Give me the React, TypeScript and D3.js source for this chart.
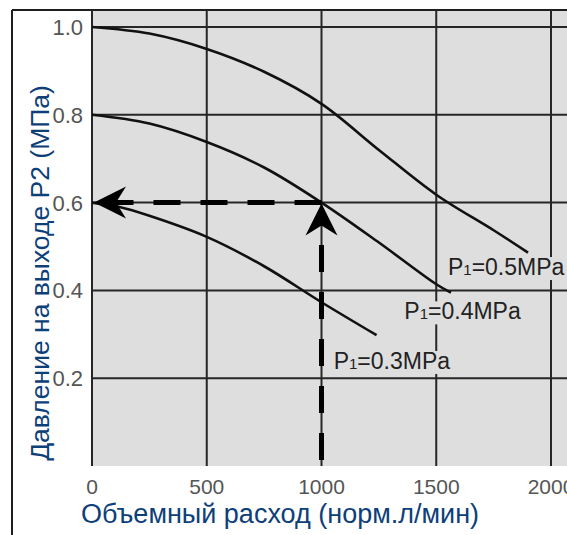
import React, { useEffect, useRef } from 'react';
import * as d3 from 'd3';

// расход, норм.л/мин
const flow05 = [0, 250, 500, 750, 1000, 1250, 1500, 1750, 1900];
const p05 = [1.0, 0.985, 0.95, 0.898, 0.825, 0.72, 0.618, 0.537, 0.486];
const flow04 = [0, 250, 500, 750, 1000, 1250, 1500, 1564];
const p04 = [0.8, 0.78, 0.738, 0.68, 0.6, 0.509, 0.414, 0.395];
const flow03 = [0, 120, 250, 500, 750, 1000, 1240];
const p03 = [0.6, 0.59, 0.57, 0.522, 0.455, 0.373, 0.298];

const xTicks = [0, 500, 1000, 1500, 2000];
const yTicks = [0.2, 0.4, 0.6, 0.8, 1.0];
const seriesNames = ['0.5', '0.4', '0.3'];
// where each label sits, in data units (flow, pressure)
const labelFlow = [1551, 1361, 1053];
const labelP = [0.435, 0.334, 0.221];

const readFlow = 1000;
const readP = 0.6;

export default function App() {
  const svgRef = useRef<SVGSVGElement>(null);

  useEffect(() => {
    const W = 567;
    const H = 535;
    const svg = d3.select(svgRef.current);
    svg.selectAll('*').remove();

    const x = d3.scaleLinear().domain([0, 2000]).range([92, 551]);
    const y = d3.scaleLinear().domain([0, 1]).range([466, 27]);
    const plotTop = 10;
    const font = "'Liberation Sans', Arial, sans-serif";
    const blue = '#0d4079';

    svg.append('rect').attr('width', W).attr('height', H).attr('fill', '#fff');

    // grey plot area
    svg.append('rect')
      .attr('x', x(0)).attr('y', plotTop)
      .attr('width', W - x(0)).attr('height', y(0) - plotTop)
      .attr('fill', '#dedede');

    // frame
    svg.append('line').attr('x1', 12).attr('x2', W).attr('y1', plotTop).attr('y2', plotTop)
      .attr('stroke', '#1e1e1e').attr('stroke-width', 2);
    svg.append('line').attr('x1', 12).attr('x2', 12).attr('y1', plotTop).attr('y2', H)
      .attr('stroke', '#1e1e1e').attr('stroke-width', 2);

    // grid
    const grid = svg.append('g').attr('stroke', '#262626').attr('stroke-width', 2);
    grid.selectAll('.vx').data(xTicks).join('line')
      .attr('x1', d => x(d)).attr('x2', d => x(d))
      .attr('y1', plotTop).attr('y2', y(0));
    grid.selectAll('.hy').data(yTicks).join('line')
      .attr('x1', x(0)).attr('x2', W)
      .attr('y1', d => y(d)).attr('y2', d => y(d));

    // tick labels
    svg.append('g').selectAll('text').data(xTicks).join('text')
      .attr('x', d => x(d)).attr('y', 494)
      .attr('text-anchor', 'middle')
      .attr('font-family', font).attr('font-size', 21).attr('fill', '#555')
      .text(d => d);
    svg.append('g').selectAll('text').data(yTicks).join('text')
      .attr('x', 83).attr('y', d => y(d) + 8)
      .attr('text-anchor', 'end')
      .attr('font-family', font).attr('font-size', 22).attr('fill', '#555')
      .text(d => d.toFixed(1));

    // curves
    const line = d3.line<[number, number]>()
      .x(d => x(d[0])).y(d => y(d[1]))
      .curve(d3.curveCatmullRom.alpha(0.5));
    const series: [number, number][][] = [
      flow05.map((f, i) => [f, p05[i]]),
      flow04.map((f, i) => [f, p04[i]]),
      flow03.map((f, i) => [f, p03[i]]),
    ];
    svg.append('g').selectAll('path').data(series).join('path')
      .attr('d', d => line(d))
      .attr('fill', 'none').attr('stroke', '#111').attr('stroke-width', 2.6);

    // dashed reading lines
    const dash = svg.append('g').attr('stroke', '#000').attr('stroke-width', 5)
      .attr('stroke-dasharray', '27,20');
    dash.append('line')
      .attr('x1', x(readFlow)).attr('x2', x(0) + 22)
      .attr('y1', y(readP)).attr('y2', y(readP));
    dash.append('line')
      .attr('x1', x(readFlow)).attr('x2', x(readFlow))
      .attr('y1', y(0) - 6).attr('y2', y(readP) + 22);

    // arrow heads
    const tipL: [number, number] = [x(0) + 2, y(readP)];
    svg.append('path')
      .attr('d', `M${tipL[0]},${tipL[1]} L${tipL[0] + 32},${tipL[1] - 16} L${tipL[0] + 22},${tipL[1]} L${tipL[0] + 32},${tipL[1] + 16} Z`)
      .attr('fill', '#000');
    const tipU: [number, number] = [x(readFlow), y(readP) + 1];
    svg.append('path')
      .attr('d', `M${tipU[0]},${tipU[1]} L${tipU[0] + 16},${tipU[1] + 32} L${tipU[0]},${tipU[1] + 22} L${tipU[0] - 16},${tipU[1] + 32} Z`)
      .attr('fill', '#000');

    // series labels
    seriesNames.forEach((name, i) => {
      const lx = x(labelFlow[i]);
      const ly = y(labelP[i]);
      const g = svg.append('g');
      const bg = g.append('rect').attr('fill', '#dedede');
      const t = g.append('text')
        .attr('x', lx).attr('y', ly)
        .attr('font-family', font).attr('font-size', 23).attr('fill', '#222');
      t.append('tspan').text('P');
      t.append('tspan').attr('font-size', 15).text('1');
      t.append('tspan').text(`=${name}MPa`);
      const bb = (t.node() as SVGTextElement).getBBox();
      bg.attr('x', bb.x - 2).attr('y', bb.y + 3).attr('width', bb.width + 4).attr('height', bb.height - 3);
    });

    // axis titles
    svg.append('text')
      .attr('x', 280).attr('y', 523)
      .attr('text-anchor', 'middle')
      .attr('font-family', font).attr('font-size', 27).attr('fill', blue)
      .text('Объемный расход (норм.л/мин)');
    svg.append('text')
      .attr('transform', `translate(49, 273) rotate(-90)`)
      .attr('text-anchor', 'middle')
      .attr('font-family', font).attr('font-size', 26.5).attr('fill', blue)
      .text('Давление на выходе P2 (МПа)');
  }, []);

  return (
    <svg
      ref={svgRef}
      width={567}
      height={535}
      style={{ position: 'absolute', left: 0, top: 0, display: 'block' }}
    />
  );
}
